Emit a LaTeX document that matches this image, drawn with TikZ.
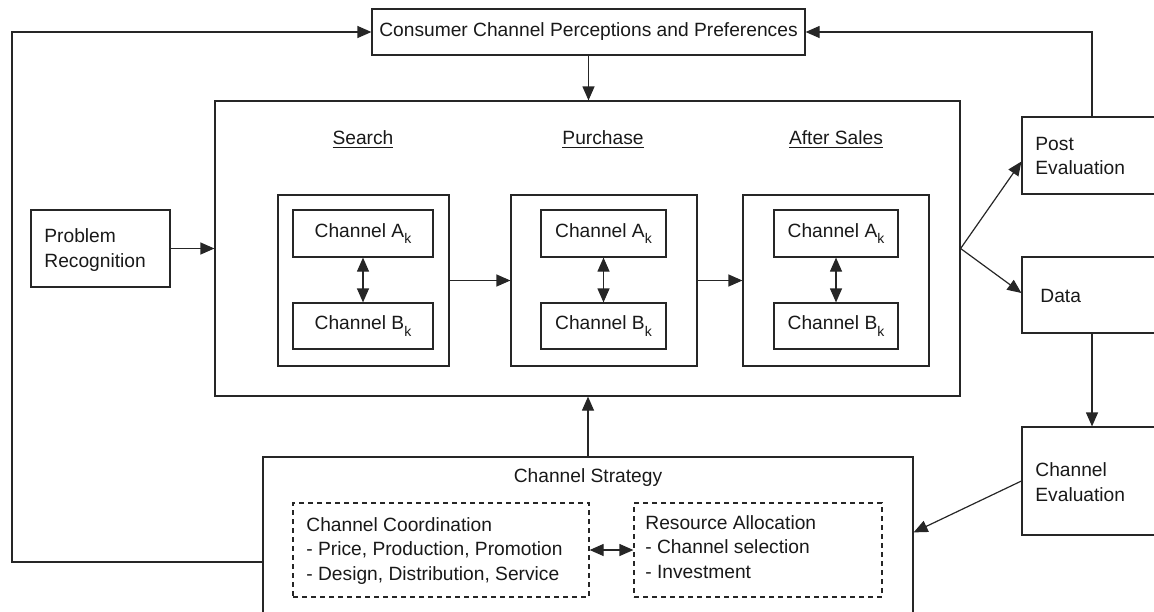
\documentclass[tikz,border=0pt]{standalone}
\usepackage{fontspec}
\setmainfont{Liberation Sans}
\usetikzlibrary{arrows.meta,fit,calc}
\newcommand\ksub{\raisebox{-0.6ex}{\fontsize{7}{8}\selectfont k}}
\begin{document}
\begin{tikzpicture}[x=0.5pt,y=-0.5pt,
  every node/.style={font=\fontsize{9.6}{12.2}\selectfont, text=black!90},
  box/.style={draw=black!85, line width=0.6pt, inner sep=0pt, rectangle},
  dbox/.style={draw=black!85, line width=0.6pt, inner sep=0pt, rectangle, dash pattern=on 2.5pt off 2pt},
  txt/.style={inner sep=0pt, align=left},
  tip/.style={-{Triangle[length=7pt,width=6pt]}},
  arr/.style={draw=black!85, line width=0.6pt, tip},
  darr/.style={draw=black!85, line width=0.6pt, {Triangle[length=7pt,width=6pt]}-{Triangle[length=7pt,width=6pt]}}
]
\useasboundingbox (0,0) rectangle (1154,611);
\clip (0,0) rectangle (1154,611);

% top box
\node[box, fit={(372,9) (805,55)}] (cons) {};
\node[txt] at (cons.center) {Consumer Channel Perceptions and Preferences};

% main box
\node[box, fit={(215,101) (960,396)}] (main) {};
\node[txt] (lsearch) at (363,140) {\underline{Search}};
\node[txt] (lpurch) at (603,140) {\underline{Purchase}};
\node[txt] (lafter) at (836,140) {\underline{After Sales}};

% search
\node[box, fit={(278,195) (449,366)}] (search) {};
\node[box, fit={(293,210) (433,257)}] (sA) {};
\node[box, fit={(293,303) (433,349)}] (sB) {};
\node[txt] at (sA.center) {Channel A\ksub};
\node[txt] at (sB.center) {Channel B\ksub};
% purchase
\node[box, fit={(511,195) (697,366)}] (purch) {};
\node[box, fit={(541,210) (666,257)}] (pA) {};
\node[box, fit={(541,303) (666,349)}] (pB) {};
\node[txt] at (pA.center) {Channel A\ksub};
\node[txt] at (pB.center) {Channel B\ksub};
% after sales
\node[box, fit={(743,195) (929,366)}] (after) {};
\node[box, fit={(774,210) (898,257)}] (aA) {};
\node[box, fit={(774,303) (898,349)}] (aB) {};
\node[txt] at (aA.center) {Channel A\ksub};
\node[txt] at (aB.center) {Channel B\ksub};

% problem recognition
\node[box, fit={(31,210) (170,287)}] (prob) {};
\node[txt, anchor=west] at (44,250) {Problem\\Recognition};

% right side
\node[box, fit={(1022,117) (1162,194)}] (post) {};
\node[txt, anchor=west] at (1035,156) {Post\\Evaluation};
\node[box, fit={(1022,257) (1162,333)}] (data) {};
\node[txt, anchor=west] at (1040,296) {Data};
\node[box, fit={(1022,427) (1162,535)}] (ceval) {};
\node[txt, anchor=west] at (1035,482) {Channel\\Evaluation};

% strategy
\node[box, fit={(263,457) (913,667)}] (strat) {};
\node[txt] at (588,478) {Channel Strategy};
\node[dbox, fit={(293,503) (589,597)}] (coord) {};
\node[txt, anchor=west] at (306,551) {Channel Coordination\\- Price, Production, Promotion\\- Design, Distribution, Service};
\node[dbox, fit={(634,503) (882,597)}] (res) {};
\node[txt, anchor=west] at (645,547) {Resource Allocation\\- Channel selection\\- Investment};

% connectors
\coordinate (lc) at (12,32);
\draw[arr] (cons.south) -- (cons.south |- main.north);
\draw[arr] (strat.west) -| (lc) -- (cons.west);
\draw[arr] (post.north) |- (cons.east);
\draw[arr] (prob.east) -- (main.west |- prob.east);
\draw[arr] (search.east) -- (purch.west);
\draw[arr] (purch.east) -- (after.west);
\draw[darr] (sA.south) -- (sB.north);
\draw[darr] (pA.south) -- (pB.north);
\draw[darr] (aA.south) -- (aB.north);
\draw[arr] (main.east) -- ([yshift=-3pt]post.west);
\draw[arr] (main.east) -- ([yshift=1pt]data.west);
\draw[arr] (data.south) -- (ceval.north);
\draw[arr] (ceval.west) -- ([yshift=-38pt]strat.north east);
\draw[arr] (strat.north) -- (strat.north |- main.south);
\draw[darr] (coord.east) -- (res.west);
\end{tikzpicture}
\end{document}
